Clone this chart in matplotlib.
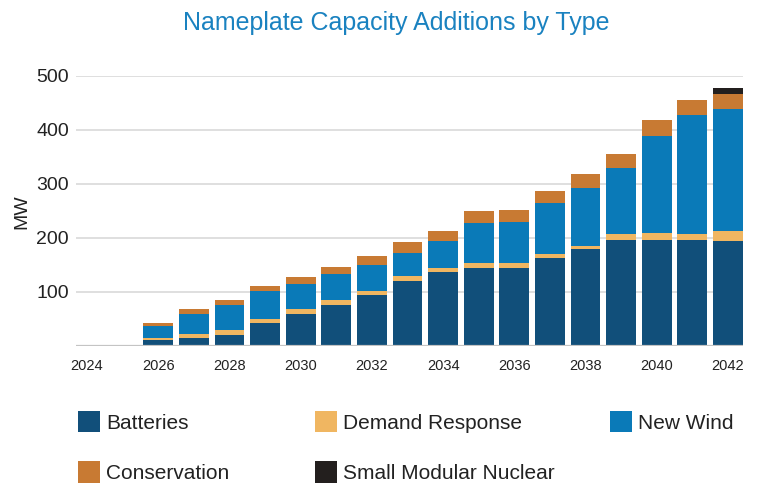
import numpy as np
import matplotlib.pyplot as plt

# Data (MW), 2024 - 2042
years = list(range(2024, 2043))
batteries = [0, 0, 12, 15, 21, 42, 59, 76, 94, 120, 137, 144, 144, 162, 179, 196, 196, 196, 194]
demand_response = [0, 0, 2, 7, 8, 8, 9, 9, 8, 9, 7, 9, 9, 8, 7, 11, 13, 11, 18]
new_wind = [0, 0, 23, 37, 47, 51, 46, 48, 48, 44, 50, 75, 77, 94, 107, 122, 179, 220, 226]
conservation = [0, 0, 5, 9, 9, 11, 13, 13, 16, 19, 18, 22, 22, 22, 26, 26, 30, 29, 29]
nuclear = [0, 0, 0, 0, 0, 0, 0, 0, 0, 0, 0, 0, 0, 0, 0, 0, 0, 0, 11]

series_names = ['Batteries', 'Demand Response', 'New Wind', 'Conservation', 'Small Modular Nuclear']
series_values = [batteries, demand_response, new_wind, conservation, nuclear]
colors = ['#114f7a', '#f0b661', '#0a7ab8', '#c87a33', '#231f1e']

plt.rcParams['font.family'] = ['Liberation Sans', 'DejaVu Sans']

fig = plt.figure(figsize=(7.6, 4.86), dpi=100)
ax = fig.add_axes([0.1, 0.288, 0.878, 0.556])

x = np.arange(len(years))
bottom = np.zeros(len(years))
bars = []
for name, vals, col in zip(series_names, series_values, colors):
    b = ax.bar(x, vals, width=0.84, bottom=bottom, color=col, label=name, zorder=3)
    bars.append(b)
    bottom += np.array(vals)

# Axes styling
ax.set_xlim(-0.31, 18.43)
ax.set_ylim(0, 500)
ax.set_yticks([100, 200, 300, 400, 500])
ax.tick_params(axis='y', length=0, pad=5, labelsize=14, labelcolor='#222222')
ax.set_xticks(x[::2])
ax.set_xticklabels([str(y) for y in years[::2]])
ax.tick_params(axis='x', length=0, pad=9, labelsize=10.5, labelcolor='#222222')
ax.grid(axis='y', color='#d9d9d9', linewidth=1.2, zorder=0)
ax.axhline(0, color='#c4c4c4', linewidth=1.6, zorder=4)
for s in ax.spines.values():
    s.set_visible(False)

fig.text(0.521, 0.952, 'Nameplate Capacity Additions by Type', ha='center', va='center',
         fontsize=18, color='#1a82c0')
fig.text(0.029, 0.564, 'MW', rotation=90, ha='center', va='center', fontsize=14, color='#222222')

# Legend: three columns placed separately
columns = [[0, 3], [1, 4], [2]]
col_x = [78, 315, 610]
for idx, cx in zip(columns, col_x):
    leg = fig.legend([bars[i] for i in idx], [series_names[i] for i in idx],
                     loc='upper left', bbox_to_anchor=(cx / 760, 1 - 411 / 486),
                     frameon=False, fontsize=15, handlelength=1.06, handleheight=1.2,
                     handletextpad=0.3, labelspacing=1.38, borderpad=0, borderaxespad=0)
    for t in leg.get_texts():
        t.set_color('#222222')

fig.savefig('out.png', dpi=100)
